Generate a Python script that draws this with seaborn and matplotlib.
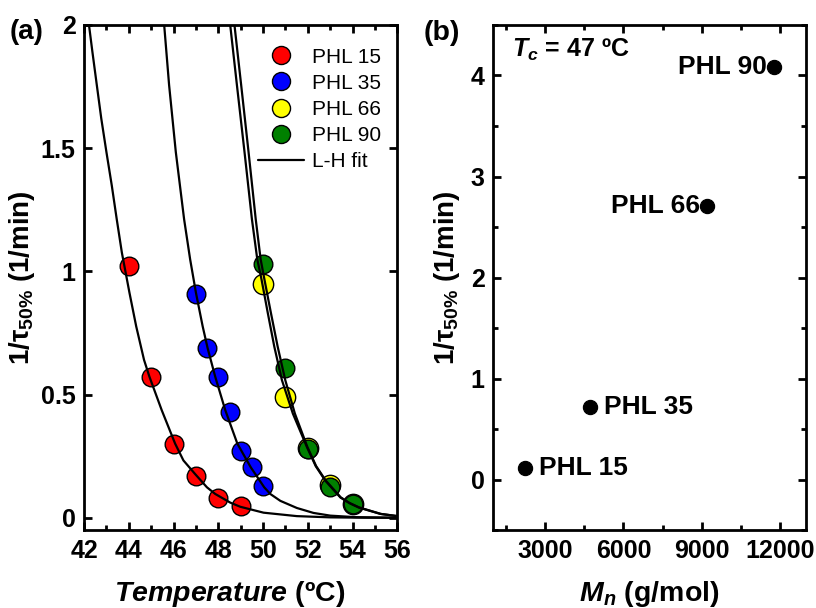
import numpy as np
import pandas as pd
import matplotlib
matplotlib.use("Agg")
import matplotlib.pyplot as plt
import seaborn as sns
from matplotlib.ticker import MultipleLocator, FixedLocator
from matplotlib.lines import Line2D

# ---------------- data: panel (a), measured points ----------------
samples = ["PHL 15", "PHL 35", "PHL 66", "PHL 90"]
colors = ["#FF0000", "#0000FF", "#FFFF00", "#008000"]

t_phl15 = [44, 45, 46, 47, 48, 49]
r_phl15 = [1.02, 0.57, 0.30, 0.17, 0.08, 0.05]

t_phl35 = [47.0, 47.5, 48.0, 48.5, 49.0, 49.5, 50.0]
r_phl35 = [0.91, 0.69, 0.57, 0.43, 0.27, 0.205, 0.13]

t_phl66 = [50, 51, 52, 53, 54]
r_phl66 = [0.95, 0.49, 0.285, 0.135, 0.055]

t_phl90 = [50, 51, 52, 53, 54]
r_phl90 = [1.03, 0.61, 0.28, 0.127, 0.056]

# ---------------- data: panel (a), L-H fit curves ----------------
fit_t_phl15 = [42.22, 42.37, 42.57, 42.77, 43.0, 43.24, 43.46, 43.69, 44.03, 44.33,
               44.68, 44.92, 45.47, 46.07, 46.44, 46.96, 47.49, 47.86, 48.53, 48.98,
               50.02, 51.51, 53.0, 54.5, 56.0]
fit_r_phl15 = [2.0, 1.893, 1.756, 1.620, 1.484, 1.348, 1.212, 1.076, 0.913, 0.777,
               0.641, 0.573, 0.437, 0.301, 0.233, 0.178, 0.124, 0.097, 0.062, 0.045,
               0.021, 0.007, 0.002, 0.0006, 0.0002]

fit_t_phl35 = [45.58, 45.80, 46.10, 46.47, 46.74, 47.0, 47.3, 47.52, 47.86, 48.31,
               48.85, 49.45, 50.05, 50.32, 50.77, 51.51, 52.25, 53.0, 54.1, 56.0]
fit_r_phl35 = [2.0, 1.756, 1.484, 1.212, 1.049, 0.913, 0.777, 0.689, 0.573, 0.437,
               0.301, 0.205, 0.124, 0.097, 0.069, 0.040, 0.020, 0.009, 0.003, 0.0005]

fit_t_phl66 = [48.53, 48.83, 49.17, 49.50, 49.74, 49.93, 50.21, 50.50, 50.84, 51.33,
               51.96, 52.35, 52.78, 53.45, 53.85, 54.27, 55.24, 56.0]
fit_r_phl66 = [2.0, 1.756, 1.484, 1.212, 1.049, 0.967, 0.831, 0.695, 0.559, 0.423,
               0.287, 0.210, 0.151, 0.083, 0.060, 0.042, 0.016, 0.007]

fit_t_phl90 = [48.72, 49.02, 49.35, 49.67, 49.89, 50.06, 50.35, 50.65, 50.99, 51.42,
               51.98, 52.37, 52.80, 53.47, 53.87, 54.30, 55.26, 56.0]
fit_r_phl90 = [2.0, 1.756, 1.484, 1.212, 1.049, 0.967, 0.831, 0.695, 0.559, 0.423,
               0.287, 0.210, 0.151, 0.083, 0.060, 0.042, 0.016, 0.007]

# ---------------- data: panel (b) ----------------
mn_values = [2230, 4720, 9190, 11760]
rate_47 = [0.115, 0.72, 2.71, 4.08]
mn_labels = ["PHL 15", "PHL 35", "PHL 66", "PHL 90"]

temps = [t_phl15, t_phl35, t_phl66, t_phl90]
rates = [r_phl15, r_phl35, r_phl66, r_phl90]
fit_temps = [fit_t_phl15, fit_t_phl35, fit_t_phl66, fit_t_phl90]
fit_rates = [fit_r_phl15, fit_r_phl35, fit_r_phl66, fit_r_phl90]

# ---------------- style ----------------
sns.set_theme(style="ticks")
plt.rcParams["font.family"] = ["Liberation Sans", "DejaVu Sans"]
plt.rcParams["font.weight"] = "bold"
plt.rcParams["text.color"] = "black"
plt.rcParams["axes.labelcolor"] = "black"
plt.rcParams["mathtext.fontset"] = "custom"
plt.rcParams["mathtext.rm"] = "Liberation Sans:bold"
plt.rcParams["mathtext.it"] = "Liberation Sans:italic:bold"
plt.rcParams["mathtext.bf"] = "Liberation Sans:bold"
plt.rcParams["mathtext.bfit"] = "Liberation Sans:bold:italic"
plt.rcParams["axes.linewidth"] = 2.0
plt.rcParams["axes.edgecolor"] = "black"
for ax_ in ("x", "y"):
    plt.rcParams[f"{ax_}tick.direction"] = "in"
    plt.rcParams[f"{ax_}tick.major.width"] = 2.0
    plt.rcParams[f"{ax_}tick.minor.width"] = 2.0
    plt.rcParams[f"{ax_}tick.major.size"] = 6
    plt.rcParams[f"{ax_}tick.minor.size"] = 3.5
    plt.rcParams[f"{ax_}tick.color"] = "black"
    plt.rcParams[f"{ax_}tick.labelcolor"] = "black"
    plt.rcParams[f"{ax_}tick.major.pad"] = 6

fig = plt.figure(figsize=(8.16, 6.08), dpi=100)
ax1 = fig.add_axes([0.103, 0.128, 0.384, 0.831])
ax2 = fig.add_axes([0.604, 0.128, 0.384, 0.831])

# ---------------- panel (a) ----------------
rows = []
for s, tt, rr in zip(samples, temps, rates):
    for t, r in zip(tt, rr):
        rows.append({"T": t, "rate": r, "sample": s})
df_a = pd.DataFrame(rows)

fit_rows = []
for s, tt, rr in zip(samples, fit_temps, fit_rates):
    for t, r in zip(tt, rr):
        fit_rows.append({"T": t, "rate": r, "sample": s})
df_fit = pd.DataFrame(fit_rows)

sns.lineplot(data=df_fit, x="T", y="rate", units="sample", estimator=None,
             sort=False, color="black", linewidth=1.6, ax=ax1, legend=False, zorder=5)

def pts(s, cond=None):
    sub = df_a[df_a["sample"] == s]
    if cond is not None:
        sub = sub[cond(sub)]
    return sub

sns.scatterplot(data=pts("PHL 15"), x="T", y="rate", color=colors[0], s=180,
                edgecolor="black", linewidth=1.0, ax=ax1, legend=False, zorder=3)
sns.scatterplot(data=pts("PHL 35"), x="T", y="rate", color=colors[1], s=180,
                edgecolor="black", linewidth=1.0, ax=ax1, legend=False, zorder=3)
sns.scatterplot(data=pts("PHL 90", lambda d: d["T"] < 52), x="T", y="rate", color=colors[3],
                s=180, edgecolor="black", linewidth=1.0, ax=ax1, legend=False, zorder=2.5)
sns.scatterplot(data=pts("PHL 66"), x="T", y="rate", color=colors[2], s=215,
                edgecolor="black", linewidth=1.0, ax=ax1, legend=False, zorder=3)
sns.scatterplot(data=pts("PHL 90", lambda d: d["T"] >= 52), x="T", y="rate", color=colors[3],
                s=180, edgecolor="black", linewidth=1.0, ax=ax1, legend=False, zorder=3.5)

ax1.set_xlim(42, 56)
ax1.set_ylim(-0.05, 2)
ax1.xaxis.set_major_locator(MultipleLocator(2))
ax1.xaxis.set_minor_locator(MultipleLocator(1))
ax1.yaxis.set_major_locator(FixedLocator([0, 0.5, 1, 1.5, 2]))
ax1.set_yticklabels(["0", "0.5", "1", "1.5", "2"])
ax1.tick_params(which="both", top=True, right=True, labelsize=18)
ax1.set_xlabel(r"$\mathbfit{Temperature}$ (ºC)", fontsize=20.5, fontweight="bold",
               labelpad=12, x=0.465)
ax1.set_ylabel(r"1/τ$_{50\%}$ (1/min)", fontsize=20, fontweight="bold", labelpad=3)

handles = [Line2D([], [], marker="o", linestyle="", markersize=13,
                  markerfacecolor=c, markeredgecolor="black", markeredgewidth=1.0)
           for c in colors]
handles.append(Line2D([], [], color="black", linewidth=1.6))
ax1.legend(handles, samples + ["L-H fit"], loc="upper right", frameon=False,
           prop={"family": "Liberation Sans", "weight": "normal", "size": 15},
           handlelength=2.2, handletextpad=0.35, labelspacing=0.34,
           borderaxespad=0.4, borderpad=0.4, bbox_to_anchor=(1.0, 0.988))

fig.text(0.033, 0.948, "(a)", fontsize=20, fontweight="bold", ha="center", va="center")

# ---------------- panel (b) ----------------
df_b = pd.DataFrame({"Mn": mn_values, "rate": rate_47, "label": mn_labels})
sns.scatterplot(data=df_b, x="Mn", y="rate", color="black", s=105,
                edgecolor="black", ax=ax2, legend=False, zorder=3)
for mn, r, lab in zip(mn_values, rate_47, mn_labels):
    if lab in ("PHL 15", "PHL 35"):
        ax2.annotate(lab, (mn, r), xytext=(10, 0), textcoords="offset points",
                     ha="left", va="center", fontsize=19, fontweight="bold")
    else:
        ax2.annotate(lab, (mn, r), xytext=(-5, 0), textcoords="offset points",
                     ha="right", va="center", fontsize=19, fontweight="bold")

ax2.set_xlim(1000, 13000)
ax2.set_ylim(-0.5, 4.5)
ax2.xaxis.set_major_locator(FixedLocator([3000, 6000, 9000, 12000]))
ax2.xaxis.set_minor_locator(FixedLocator([1500, 4500, 7500, 10500]))
ax2.yaxis.set_major_locator(MultipleLocator(1))
ax2.yaxis.set_minor_locator(MultipleLocator(0.5))
ax2.tick_params(which="both", top=True, right=True, labelsize=18)
ax2.set_xlabel(r"$\mathbfit{M}_{\mathbfit{n}}$ (g/mol)", fontsize=20.5, fontweight="bold", labelpad=12)
ax2.set_ylabel(r"1/τ$_{50\%}$ (1/min)", fontsize=20, fontweight="bold", labelpad=6)
ax2.text(0.06, 0.95, r"$\mathbfit{T}_{\mathbfit{c}}$ = 47 ºC", transform=ax2.transAxes,
         fontsize=18, fontweight="bold", ha="left", va="center")

fig.text(0.542, 0.946, "(b)", fontsize=20.5, fontweight="bold", ha="center", va="center")

for ax in (ax1, ax2):
    for lab in ax.get_xticklabels() + ax.get_yticklabels():
        lab.set_fontweight("bold")

fig.savefig("out.png", dpi=100)
